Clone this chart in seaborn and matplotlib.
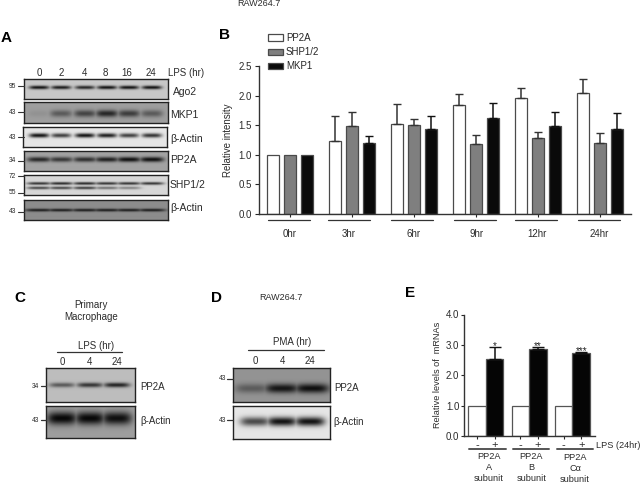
import numpy as np
import pandas as pd
import matplotlib
matplotlib.use("Agg")
import matplotlib.pyplot as plt
from matplotlib.lines import Line2D
from matplotlib.transforms import ScaledTranslation
import seaborn as sns

W, H = 644, 488
# ---------- panel B data
times = ["0hr", "3hr", "6hr", "9hr", "12hr", "24hr"]
pp2a = [1.0, 1.23, 1.52, 1.84, 1.96, 2.05]
shp = [1.0, 1.49, 1.51, 1.19, 1.28, 1.20]
mkp1 = [1.0, 1.20, 1.44, 1.62, 1.48, 1.43]
pp2a_top = [1.0, 1.66, 1.86, 2.02, 2.12, 2.28]
shp_top = [1.0, 1.72, 1.61, 1.33, 1.38, 1.36]
mkp1_top = [1.0, 1.32, 1.66, 1.87, 1.72, 1.70]
# ---------- panel E data
subunits = ["A", "B", "C"]
minus_lps = [1.0, 1.0, 1.0]
plus_lps = [2.54, 2.86, 2.74]
plus_top = [2.92, 2.92, 2.78]
stars = ["*", "**", "***"]
# ---------- blot band strengths per lane
ago2 = [.95, .9, .85, .95, .95, .95]
mkp1_blot = [.08, .45, .6, .8, .65, .45]
actin1 = [.95, .75, .95, .9, .75, .8]
pp2a_blot = [.8, .7, .75, .85, .95, .95]
shp_upper = [.8, .85, .85, .8, .8, .8]
shp_lower = [.7, .7, .75, .5, .4, .0]
actin2 = [.85, .85, .85, .85, .85, .85]
c_pp2a = [.55, .75, .85]
c_actin = [1.0, 1.0, .95]
d_pp2a = [.4, .9, .95]
d_actin = [.7, .95, .95]

sns.set_theme(style="ticks")
plt.rcParams["font.family"] = ["Liberation Sans", "DejaVu Sans"]
TXT = "#2b2b2b"
fig = plt.figure(figsize=(W / 100, H / 100), dpi=100, facecolor="white")


def axpx(x0, y0, x1, y1):
    return fig.add_axes([x0 / W, 1 - y1 / H, (x1 - x0) / W, (y1 - y0) / H])


def t(x, y, s, size=7, ha="left", va="center", **kw):
    kw.setdefault("color", TXT)
    return fig.text(x / W, 1 - y / H, s, fontsize=size, ha=ha, va=va, **kw)


def ln(x0, y0, x1, y1, lw=0.9, color="#333333"):
    fig.add_artist(Line2D([x0 / W, x1 / W], [1 - y0 / H, 1 - y1 / H], lw=lw, color=color))


def blot(box, lanes, strengths, ypos, bg, thick=.09, hw=10.0, lw=1.0):
    """strengths / ypos: one list per band row"""
    x0, y0, x1, y1 = box
    ax = axpx(x0, y0, x1, y1)
    nx, ny = int((x1 - x0) * 2), int((y1 - y0) * 2)
    X, Y = np.meshgrid(np.linspace(x0, x1, nx), np.linspace(0, 1, ny))
    dark = np.zeros_like(X)
    for vals, yy in zip(strengths, ypos):
        for cx, v in zip(lanes, vals):
            prof = np.exp(-np.abs((X - cx) / hw) ** 4)
            dark = np.maximum(dark, v * prof * np.exp(-((Y - yy) / thick) ** 2))
    img = bg * (1 - dark) + 0.03 * dark
    ax.imshow(img, cmap="gray", vmin=0, vmax=1, aspect="auto", interpolation="bilinear")
    ax.set_xticks([])
    ax.set_yticks([])
    for sp in ax.spines.values():
        sp.set_linewidth(lw)
        sp.set_color("#222222")
    return ax


# ---------- Panel A blots
lanesA = [39, 61, 85, 107, 129, 152]
blot((24, 79, 168, 99), lanesA, [ago2], [.42], .78)
blot((24, 102, 168, 123), lanesA, [mkp1_blot], [.55], .62, thick=.17, hw=11)
blot((23, 127, 167, 147), lanesA, [actin1], [.42], .90, thick=.11)
blot((24, 151, 168, 171), lanesA, [pp2a_blot], [.45], .64, thick=.12, hw=12)
blot((24, 175, 168, 195), lanesA, [shp_upper, shp_lower], [.42, .65], .84, thick=.07, hw=12)
blot((24, 200, 168, 220), lanesA, [actin2], [.53], .55, thick=.07, hw=14)
# ---------- Panel C, D blots
blot((46, 368, 135, 402), [62, 90, 117], [c_pp2a], [.5], .74, thick=.07, hw=13)
blot((46, 406, 135, 438), [62, 90, 117], [c_actin], [.4], .62, thick=.2, hw=15)
blot((233, 368, 330, 402), [252, 282, 312], [d_pp2a], [.6], .58, thick=.14, hw=17)
blot((233, 406, 330, 439), [255, 282, 310], [d_actin], [.47], .90, thick=.14, hw=15)

# ---------- Panel A text
t(259, 4, "RAW264.7", 6.5, ha="center")
t(1, 38, "A", 11, weight="bold", color="black")
for x, s in zip([39, 61, 85, 105, 127, 151], ["0", "2", "4", "8", "16", "24"]):
    t(x, 73, s, 7, ha="center")
t(168, 73, "LPS (hr)", 7)
for y, x, s in [(92, 172.5, "Ago2"), (115, 170, "MKP1"), (139, 170, "β-Actin"),
                (160, 170, "PP2A"), (185, 170, "SHP1/2"), (208, 170, "β-Actin")]:
    t(x, y, s, 7.5)
for y, s in [(86, "95"), (112, "43"), (137, "43"), (161, "34"), (176, "72"), (193, "55"), (212, "43")]:
    t(16, y, s, 4.8, ha="right")
    ln(18, y, 24, y, lw=0.8)

# ---------- Panel C text
t(14, 298, "C", 11, weight="bold", color="black")
t(91, 311, "Primary\nMacrophage", 7, ha="center", linespacing=1.15)
t(96, 346, "LPS (hr)", 7, ha="center")
ln(57, 352, 122, 352)
for x, s in zip([62, 90, 117], ["0", "4", "24"]):
    t(x, 362, s, 7, ha="center")
t(140, 387, "PP2A", 7)
t(140, 421, "β-Actin", 7)
t(39, 386, "34", 4.8, ha="right")
ln(41, 386, 46, 386)
t(39, 420, "43", 4.8, ha="right")
ln(41, 420, 46, 420)

# ---------- Panel D text
t(211, 298, "D", 11, weight="bold", color="black")
t(281, 298, "RAW264.7", 6.5, ha="center")
t(292, 342, "PMA (hr)", 7, ha="center")
ln(248, 350, 324, 350)
for x, s in zip([255, 282, 310], ["0", "4", "24"]):
    t(x, 361, s, 7, ha="center")
t(334, 388, "PP2A", 7)
t(333, 422, "β-Actin", 7)
t(226, 379, "43", 4.8, ha="right")
ln(227, 379, 233, 379)
t(226, 420, "43", 4.8, ha="right")
ln(227, 420, 233, 420)

# ---------- Panel B chart
dfB = pd.DataFrame({"time": times * 3,
                    "value": pp2a + shp + mkp1,
                    "series": ["PP2A"] * 6 + ["SHP1/2"] * 6 + ["MKP1"] * 6})
axB = axpx(259, 66, 631, 214)
sns.barplot(data=dfB, x="time", y="value", hue="series", ax=axB, width=.808, gap=.3,
            palette=["white", "#7f7f7f", "#0a0a0a"], saturation=1, errorbar=None,
            edgecolor="#4a4a4a", linewidth=0.9)
for cont, vals, tops, col in zip(axB.containers, [pp2a, shp, mkp1], [pp2a_top, shp_top, mkp1_top],
                                 ["#333333", "#333333", "#111111"]):
    xs = [b.get_x() + b.get_width() / 2 for b in cont]
    v, tp = np.array(vals), np.array(tops)
    m = tp > v
    axB.errorbar(np.array(xs)[m], v[m], yerr=[np.zeros(m.sum()), (tp - v)[m]], fmt="none",
                 ecolor=col, elinewidth=1.1, capsize=2.6, capthick=1.0)
axB.set_xlim(-0.5, 5.5)
axB.set_ylim(0, 2.5)
axB.set_yticks([0, .5, 1, 1.5, 2, 2.5])
axB.set_yticklabels(["0.0", "0.5", "1.0", "1.5", "2.0", "2.5"], fontsize=7, color=TXT)
axB.set_ylabel("Relative intensity", fontsize=7, color=TXT, labelpad=4)
axB.set_xlabel("")
axB.tick_params(axis="x", length=2, width=.8, pad=9, labelsize=7, labelcolor=TXT)
axB.tick_params(axis="y", length=3, width=.8, pad=2)
for lab, dx in zip(axB.get_xticklabels(), [0, -3, 0, 1, -1, -1]):
    lab.set_transform(lab.get_transform() + ScaledTranslation(dx / 100, 0, fig.dpi_scale_trans))
sns.despine(ax=axB)
for sp in ("left", "bottom"):
    axB.spines[sp].set_linewidth(1.0)
    axB.spines[sp].set_color("#333333")
leg = axB.legend(loc="upper left", bbox_to_anchor=(268 / W, 1 - 33 / H),
                 bbox_transform=fig.transFigure, frameon=False, fontsize=7, title=None,
                 handlelength=1.5, handleheight=.6, labelspacing=.42, handletextpad=.35,
                 borderpad=0, borderaxespad=0)
for x0, x1 in [(268, 310), (328, 370), (391, 433), (454, 496), (515, 557), (578, 620)]:
    ln(x0, 220, x1, 220, lw=0.9)
t(219, 35, "B", 11, weight="bold", color="black")

# ---------- Panel E chart
dfE = pd.DataFrame({"sub": subunits * 2, "value": minus_lps + plus_lps,
                    "lps": ["-"] * 3 + ["+"] * 3})
axE = axpx(463.5, 314.5, 595, 436)
sns.barplot(data=dfE, x="sub", y="value", hue="lps", ax=axE, width=.808,
            palette=["white", "#050505"], saturation=1, errorbar=None,
            edgecolor="#555555", linewidth=0.9, legend=False)
xs = [b.get_x() + b.get_width() / 2 for b in axE.containers[1]]
axE.errorbar(xs, plus_lps, yerr=[np.zeros(3), np.array(plus_top) - np.array(plus_lps)], fmt="none",
             ecolor="#111111", elinewidth=1.1, capsize=4.5, capthick=1.0)
for x, tp, s in zip(xs, plus_top, stars):
    axE.text(x, tp - .14, s, ha="center", va="bottom", fontsize=7, color="#222222")
xm = [b.get_x() + b.get_width() / 2 for b in axE.containers[0]]
ticks = [v for p in zip(xm, xs) for v in p]
axE.set_xticks(ticks)
axE.set_xticklabels(["-", "+"] * 3, fontsize=8, color=TXT)
for lab, dx in zip(axE.get_xticklabels(), [3, 1, 5, 3, 2, 1]):
    lab.set_transform(lab.get_transform() + ScaledTranslation(dx / 100, 0, fig.dpi_scale_trans))
axE.set_xlim(-0.515, 2.52)
axE.set_ylim(0, 4)
axE.set_yticks([0, 1, 2, 3, 4])
axE.set_yticklabels(["0.0", "1.0", "2.0", "3.0", "4.0"], fontsize=7, color=TXT)
axE.set_ylabel("Relative levels of  mRNAs", fontsize=6.6, color=TXT, labelpad=3)
axE.set_xlabel("")
axE.tick_params(axis="x", length=2, width=.8, pad=1)
axE.tick_params(axis="y", length=2, width=.8, pad=1)
sns.despine(ax=axE)
for sp in ("left", "bottom"):
    axE.spines[sp].set_linewidth(1.0)
    axE.spines[sp].set_color("#333333")
for x0, x1 in [(469, 506), (513, 549), (557, 593)]:
    ln(x0, 448.7, x1, 448.7, lw=1.4, color="#555555")
for x, y0, s in [(489, 457, "PP2A\nA\nsubunit"), (531.5, 457, "PP2A\nB\nsubunit"), (575, 458, "PP2A\nCα\nsubunit")]:
    t(x, y0, s, 6.6, ha="center", va="top", linespacing=1.3).set_y(1 - (y0 - 5) / H)
t(596, 445.5, "LPS (24hr)", 6.6)
t(405, 293, "E", 11, weight="bold", color="black")

fig.savefig("out.png", dpi=100)
